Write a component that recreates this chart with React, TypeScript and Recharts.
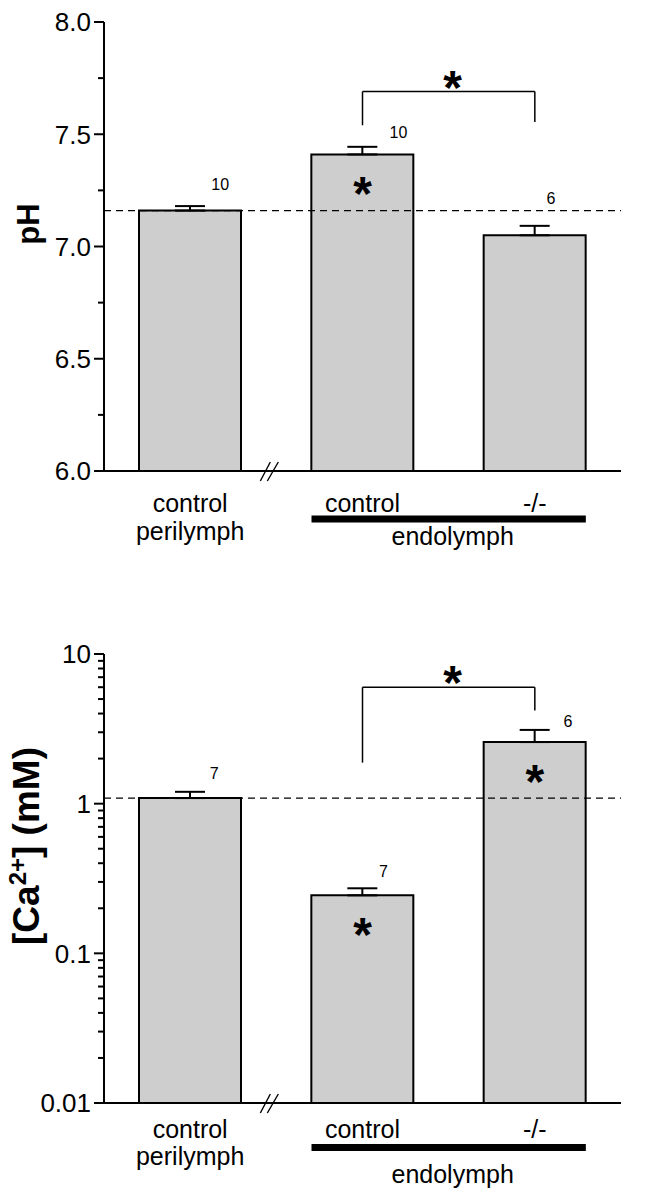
import React from 'react'
import { ComposedChart, Bar, ErrorBar, XAxis, YAxis, ReferenceLine, Scatter } from 'recharts'

const GROUPS = ['perilymph', 'control', '-/-']
const GROUP_LINES = [['control', 'perilymph'], ['control'], ['-/-']]
const GROUP_SPAN = 'endolymph'

const PH_MEAN = [7.16, 7.41, 7.05]
const PH_SEM = [0.02, 0.034, 0.042]
const PH_N = [10, 10, 6]
const PH_SIG = [false, true, false]
const PH_TICKS = [6, 6.25, 6.5, 6.75, 7, 7.25, 7.5, 7.75, 8]
const PH_MAJOR = [6, 6.5, 7, 7.5, 8]
const PH_BRACKET = { top: 7.69, left: 7.54, right: 7.555 }

const CA_MEAN = [1.09, 0.244, 2.58]
const CA_SEM = [0.11, 0.028, 0.53]
const CA_N = [7, 7, 6]
const CA_SIG = [false, true, true]
const CA_TICKS = [
  0.01, 0.02, 0.03, 0.04, 0.05, 0.06, 0.07, 0.08, 0.09,
  0.1, 0.2, 0.3, 0.4, 0.5, 0.6, 0.7, 0.8, 0.9,
  1, 2, 3, 4, 5, 6, 7, 8, 9, 10,
]
const CA_MAJOR = [0.01, 0.1, 1, 10]
const CA_BRACKET = { top: 6.0, left: 1.88, right: 4.2 }

// where the n= labels sit relative to the top of each error bar
const PH_N_SHIFT = [[30, -22], [36, -15], [16, -28]]
const CA_N_SHIFT = [[24, -19], [21, -17], [33, -9]]

const FONT = '"Liberation Sans", Arial, sans-serif'
const W = 672
const AXIS_X = 104
const PLOT_RIGHT = 621
const STEP = (PLOT_RIGHT - AXIS_X) / GROUPS.length
const BAR_W = 102
const XAXIS_H = 96

const build = (mean: number[], sem: number[], n: number[], sig: boolean[], shift: number[][]) =>
  GROUPS.map((name, i) => ({
    name,
    mean: mean[i],
    err: [0, sem[i]],
    top: mean[i] + sem[i],
    n: n[i],
    sig: sig[i],
    shift: shift[i],
  }))

const phData = build(PH_MEAN, PH_SEM, PH_N, PH_SIG, PH_N_SHIFT)
const caData = build(CA_MEAN, CA_SEM, CA_N, CA_SIG, CA_N_SHIFT)

type XOff = { l1: number; l2: number; rule: number; span: number }

function GroupTick(props: any) {
  const { x, y, payload, off } = props as { x: number; y: number; payload: any; off: XOff }
  const i = GROUPS.indexOf(payload.value)
  const lines = GROUP_LINES[i] || []
  const bx = x + STEP / 2 - 7
  return (
    <g fontFamily={FONT} fontSize={25} fill="#000">
      <text x={x} y={y + off.l1} textAnchor="middle">{lines[0]}</text>
      {lines[1] && <text x={x} y={y + off.l2} textAnchor="middle">{lines[1]}</text>}
      {i === 0 && (
        <g stroke="#000" strokeWidth={1.4}>
          <line x1={bx - 9} y1={y + 10} x2={bx + 1} y2={y - 9} />
          <line x1={bx - 2} y1={y + 10} x2={bx + 9} y2={y - 9} />
        </g>
      )}
      {i === 1 && (
        <>
          <rect x={x - BAR_W / 2} y={y + off.rule - 3.5} width={STEP + BAR_W} height={7} fill="#000" />
          <text x={x + STEP / 2 + 4} y={y + off.span} textAnchor="middle">{GROUP_SPAN}</text>
        </>
      )}
    </g>
  )
}

function ValueTick(props: any) {
  const { x, y, payload, major, fmt } = props
  const v = payload.value as number
  const isMajor = (major as number[]).some((m) => Math.abs(m - v) < 1e-9)
  return (
    <g>
      <line x1={x - (isMajor ? 10 : 6)} x2={x} y1={y} y2={y} stroke="#000" strokeWidth={2} />
      {isMajor && (
        <text x={x - 13} y={y} dy="0.36em" textAnchor="end" fontSize={26} fontFamily={FONT} fill="#000">
          {fmt(v)}
        </text>
      )}
    </g>
  )
}

function NLabel(props: any) {
  const { cx, cy, payload } = props
  const [dx, dy] = payload.shift
  return (
    <text x={cx + dx} y={cy + dy} dy="0.36em" textAnchor="middle" fontSize={16} fontFamily={FONT} fill="#000">
      {payload.n}
    </text>
  )
}

function Star({ x, y }: { x: number; y: number }) {
  return (
    <text x={x} y={y + 27} textAnchor="middle" fontSize={48} fontWeight="bold" fontFamily={FONT} fill="#000">
      *
    </text>
  )
}

function SigStar(props: any) {
  const { cx, cy, payload } = props
  if (!payload.sig) return <g />
  return <Star x={cx} y={cy + 29} />
}

function BracketStar(props: any) {
  const vb = props.viewBox || {}
  const x = vb.x1 !== undefined ? (vb.x1 + vb.x2) / 2 : vb.x + (vb.width || 0) / 2
  const y = vb.y1 !== undefined ? Math.min(vb.y1, vb.y2) : vb.y
  return <Star x={x + 4} y={y - 15} />
}

type PanelProps = {
  data: any[]
  height: number
  top: number
  plotBottom: number
  scale: 'linear' | 'log'
  domain: [number, number]
  ticks: number[]
  major: number[]
  fmt: (v: number) => string
  title: React.ReactNode
  titleSize: number
  titleY: number
  xOff: XOff
  bracket: { top: number; left: number; right: number }
}

function Panel(p: PanelProps) {
  const bottom = p.height - p.plotBottom - XAXIS_H
  return (
    <ComposedChart
      width={W}
      height={p.height}
      data={p.data}
      margin={{ top: p.top, right: W - PLOT_RIGHT, bottom, left: 0 }}
    >
      <XAxis
        dataKey="name"
        type="category"
        height={XAXIS_H}
        interval={0}
        tickSize={0}
        tickMargin={0}
        tickLine={false}
        axisLine={{ stroke: '#000', strokeWidth: 2 }}
        tick={(t: any) => <GroupTick {...t} off={p.xOff} />}
      />
      <YAxis
        type="number"
        scale={p.scale}
        domain={p.domain}
        ticks={p.ticks}
        interval={0}
        width={AXIS_X}
        tickSize={0}
        tickMargin={0}
        tickLine={false}
        allowDataOverflow
        axisLine={{ stroke: '#000', strokeWidth: 2 }}
        tick={(t: any) => <ValueTick {...t} major={p.major} fmt={p.fmt} />}
        label={() => (
          <text
            x={39}
            y={p.titleY}
            transform={`rotate(-90 39 ${p.titleY})`}
            textAnchor="middle"
            fontFamily={FONT}
            fontWeight="bold"
            fontSize={p.titleSize}
            fill="#000"
          >
            {p.title}
          </text>
        )}
      />
      <Bar dataKey="mean" fill="#cecece" stroke="#000" strokeWidth={2} barSize={BAR_W} isAnimationActive={false}>
        <ErrorBar dataKey="err" direction="y" width={15} stroke="#000" strokeWidth={2} isAnimationActive={false} />
      </Bar>
      <ReferenceLine y={p.data[0].mean} stroke="#000" strokeWidth={1.3} strokeDasharray="7 5" />
      <ReferenceLine
        segment={[{ x: GROUPS[1], y: p.bracket.top }, { x: GROUPS[2], y: p.bracket.top }]}
        stroke="#000"
        strokeWidth={1.5}
        label={(l: any) => <BracketStar {...l} />}
      />
      <ReferenceLine
        segment={[{ x: GROUPS[1], y: p.bracket.top }, { x: GROUPS[1], y: p.bracket.left }]}
        stroke="#000"
        strokeWidth={1.5}
      />
      <ReferenceLine
        segment={[{ x: GROUPS[2], y: p.bracket.top }, { x: GROUPS[2], y: p.bracket.right }]}
        stroke="#000"
        strokeWidth={1.5}
      />
      <Scatter dataKey="top" shape={NLabel} isAnimationActive={false} />
      <Scatter dataKey="mean" shape={SigStar} isAnimationActive={false} />
    </ComposedChart>
  )
}

export default function App() {
  return (
    <div style={{ position: 'absolute', left: 0, top: 0, width: W, height: 1199, background: '#fff' }}>
      <Panel
        height={600}
        top={22}
        plotBottom={471}
        data={phData}
        scale="linear"
        domain={[6, 8]}
        ticks={PH_TICKS}
        major={PH_MAJOR}
        fmt={(v) => v.toFixed(1)}
        title="pH"
        titleSize={31}
        titleY={224}
        xOff={{ l1: 41, l2: 69, rule: 48, span: 74 }}
        bracket={PH_BRACKET}
      />
      <Panel
        height={599}
        top={54}
        plotBottom={503}
        data={caData}
        scale="log"
        domain={[0.01, 10]}
        ticks={CA_TICKS}
        major={CA_MAJOR}
        fmt={(v) => String(v)}
        title={
          <>
            [Ca<tspan dy={-13} fontSize={24}>2+</tspan>
            <tspan dy={13}>] (mM)</tspan>
          </>
        }
        titleSize={37}
        titleY={246}
        xOff={{ l1: 35, l2: 62, rule: 44.5, span: 80 }}
        bracket={CA_BRACKET}
      />
    </div>
  )
}
